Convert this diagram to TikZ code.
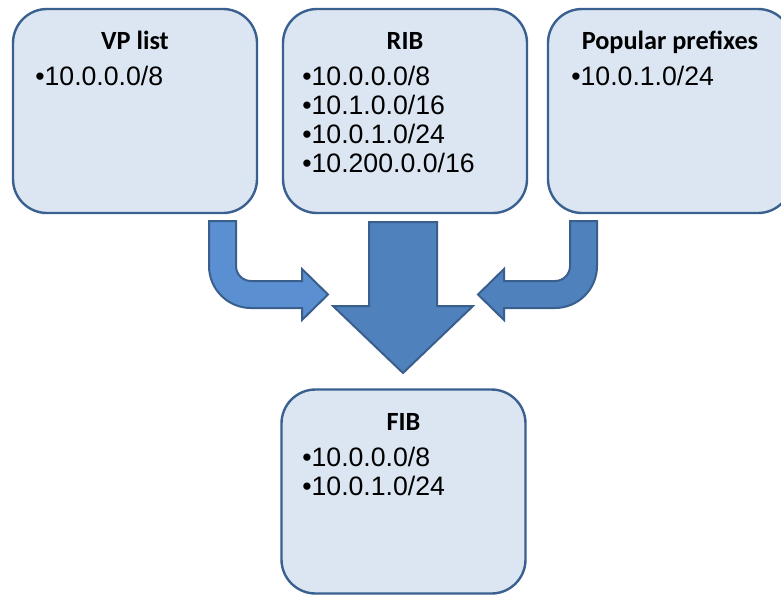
\documentclass[tikz,border=0pt]{standalone}
\usepackage{fontspec}
\setmainfont{Liberation Sans}
\newfontfamily\headfont{Carlito}
\definecolor{boxfill}{HTML}{DCE6F2}
\definecolor{boxline}{HTML}{3A6090}
\definecolor{arrowdark}{HTML}{4F81BD}
\definecolor{arrowlight}{HTML}{5A8FD2}
\definecolor{arrowline}{HTML}{3A5F8C}
\begin{document}
\begin{tikzpicture}[x=0.75pt,y=-0.75pt,
  listbox/.style={draw=boxline,fill=boxfill,line width=1.8pt,rounded corners=25.5pt,
    minimum width=183pt,minimum height=153pt,inner sep=0pt},
  head/.style={anchor=base,inner sep=0pt,font=\headfont\bfseries\fontsize{19.7}{22}\selectfont},
  item/.style={anchor=base west,inner sep=0pt,font=\fontsize{20}{22}\selectfont},
  blockarrow/.style={draw=arrowline,line width=1.5pt,line join=miter}]
\useasboundingbox (0,0) rectangle (781,594);
\clip (0,0) rectangle (781,594);

% the four lists
\node[listbox] (vp)  at (135,111) {};
\node[listbox] (rib) at (405,111) {};
\node[listbox] (pop) at (670,111) {};
\node[listbox] (fib) at (403.5,491.5) {};

\node[head] (vph) at (135,49) {VP list};
\node[item] (vp1) at (35,85) {•10.0.0.0/8};

\node[head] (ribh) at (405,49) {RIB};
\node[item] (rib1) at (302,85) {•10.0.0.0/8};
\node[item] (rib2) at (302,114.3) {•10.1.0.0/16};
\node[item] (rib3) at (302,143.6) {•10.0.1.0/24};
\node[item] (rib4) at (302,172.9) {•10.200.0.0/16};

\node[head] (poph) at (670,49) {Popular prefixes};
\node[item] (pop1) at (571,85) {•10.0.1.0/24};

\node[head] (fibh) at (403.5,430) {FIB};
\node[item] (fib1) at (302,466) {•10.0.0.0/8};
\node[item] (fib2) at (302,495.6) {•10.0.1.0/24};

% bent arrow from the VP list
\draw[blockarrow,fill=arrowlight]
  (209,221) -- (236,221) -- (236,266)
  .. controls (236,274.3) and (242.7,281) .. (251,281)
  -- (302,281) -- (302,269) -- (328,294.5) -- (302,320) -- (302,308) -- (251,308)
  .. controls (227.8,308) and (209,289.2) .. (209,266) -- cycle;

% bent arrow from the popular prefixes
\draw[blockarrow,fill=arrowdark]
  (597,221) -- (570,221) -- (570,266)
  .. controls (570,274.3) and (563.3,281) .. (555,281)
  -- (504,281) -- (504,269) -- (478,294.5) -- (504,320) -- (504,308) -- (555,308)
  .. controls (578.2,308) and (597,289.2) .. (597,266) -- cycle;

% main arrow from the RIB into the FIB
\draw[blockarrow,fill=arrowdark]
  (369,222) -- (437,222) -- (437,306) -- (473,306) -- (403,373)
  -- (333,306) -- (369,306) -- cycle;
\end{tikzpicture}
\end{document}
